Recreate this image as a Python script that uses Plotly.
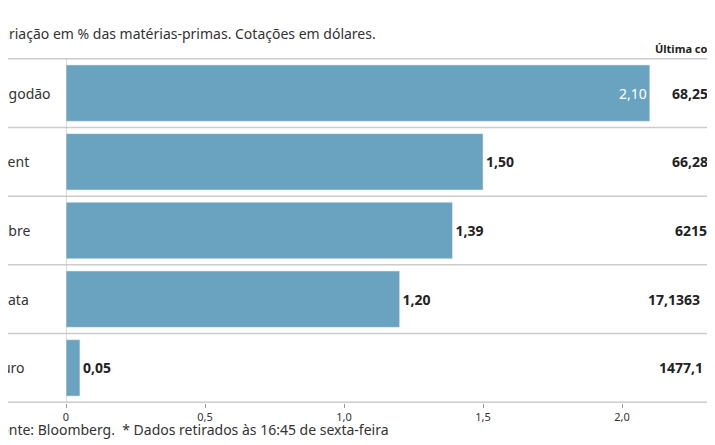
import plotly.graph_objects as go

cats = ["Algodão", "Brent", "Cobre", "Prata", "Ouro"]
vals = [2.10, 1.50, 1.39, 1.20, 0.05]
labels = ["2,10", "1,50", "1,39", "1,20", "0,05"]
quotes = ["68,25", "66,28", "6215", "17,1363", "1477,1"]
ticks = [0, 0.5, 1.0, 1.5, 2.0]
tick_text = ["0", "0,5", "1,0", "1,5", "2,0"]
label_start = [-14, -17, -19, -16, -19]
quote_start = [662, 662, 665, 638, 649]

W, H = 715, 445
L, T, B = 58, 50, 50
xmax = (W - L) / 278.0
F = "Noto Sans"

fig = go.Figure(go.Bar(
    y=cats, x=vals, orientation="h", width=0.82,
    marker=dict(color="#6aa3bf"),
    text=[l if i == 0 else "<b>" + l + "</b>" for i, l in enumerate(labels)],
    textposition=["inside", "outside", "outside", "outside", "outside"],
    insidetextanchor="end",
    textfont=dict(family=F, size=14),
    insidetextfont=dict(color="white", size=14, family=F),
    outsidetextfont=dict(color="#222", size=14, family=F),
    cliponaxis=False, hoverinfo="skip"))

shapes = []
for i in range(6):
    yv = i - 0.5
    shapes.append(dict(type="line", xref="paper", yref="y", x0=-L / (W - L), x1=1,
                       y0=yv, y1=yv, line=dict(color="#cccccc", width=1.5)))
shapes.append(dict(type="line", xref="x", yref="paper", x0=0, x1=0, y0=0, y1=1,
                   line=dict(color="#bbbbbb", width=1)))

px = lambda p: (p - L) / (W - L)
py = lambda p: (H - p - B) / (H - T - B)
ann = []
for c, q, ls, qs in zip(cats, quotes, label_start, quote_start):
    ann.append(dict(x=px(ls), y=c, xref="paper", yref="y", text=c, showarrow=False,
                    xanchor="left", font=dict(family=F, size=14, color="#333")))
    ann.append(dict(x=px(qs), y=c, xref="paper", yref="y", text="<b>" + q + "</b>",
                    showarrow=False, xanchor="left",
                    font=dict(family=F, size=14, color="#222")))
ann.append(dict(x=px(645), y=py(40), xref="paper", yref="paper",
                text="<b>Última cotação</b>", showarrow=False, xanchor="left", yanchor="middle",
                font=dict(family=F, size=11, color="#222")))
ann.append(dict(x=px(-17), y=py(26), xref="paper", yref="paper",
                text="Variação em % das matérias-primas. Cotações em dólares.", showarrow=False,
                xanchor="left", yanchor="middle", font=dict(family=F, size=14, color="#333")))
ann.append(dict(x=px(-17), y=py(421), xref="paper", yref="paper",
                text="Fonte: Bloomberg.  * Dados retirados às 16:45 de sexta-feira", showarrow=False,
                xanchor="left", yanchor="middle", font=dict(family=F, size=14, color="#333")))

fig.update_layout(
    width=W, height=H, margin=dict(l=L, r=0, t=T, b=B, autoexpand=False),
    paper_bgcolor="white", plot_bgcolor="white", showlegend=False,
    font=dict(family=F, color="#333"),
    xaxis=dict(range=[0, xmax], tickvals=ticks, ticktext=tick_text, showgrid=False,
               zeroline=False, ticks="outside", ticklen=4, tickcolor="#999",
               tickfont=dict(size=11, family=F, color="#333")),
    yaxis=dict(autorange="reversed", showticklabels=False, showgrid=False, zeroline=False),
    shapes=shapes, annotations=ann)

fig.write_html("out.html")
